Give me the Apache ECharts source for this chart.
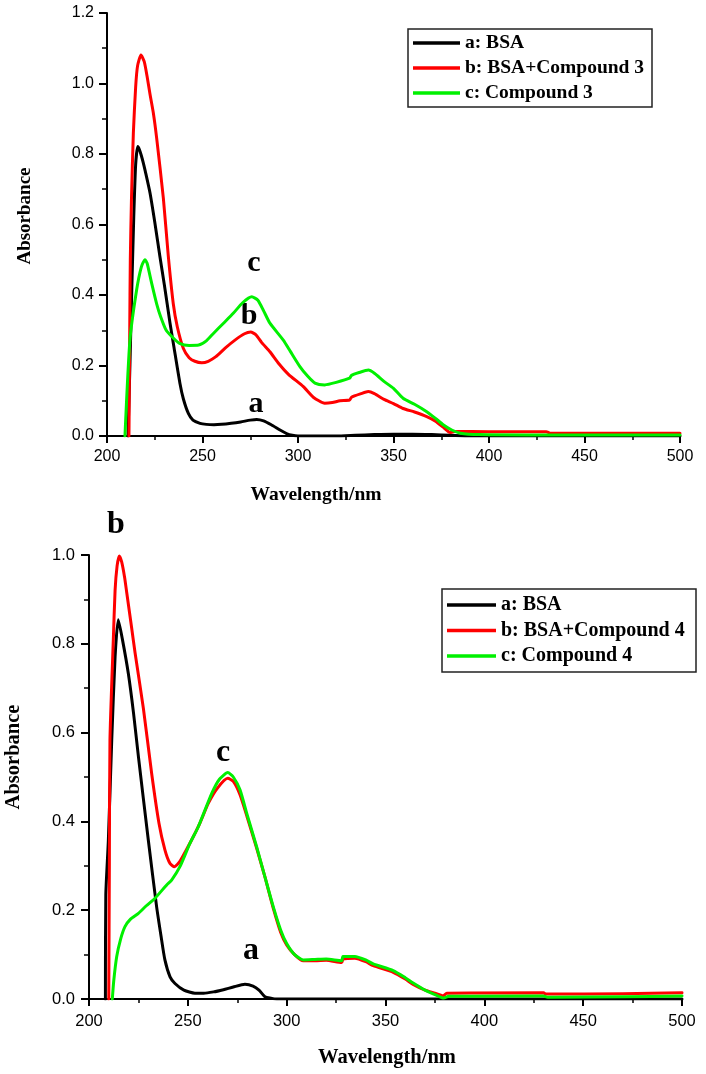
<!DOCTYPE html>
<html>
<head>
<meta charset="utf-8">
<script src="https://cdn.jsdelivr.net/npm/echarts@6/dist/echarts.min.js"></script>
<style>
html,body{margin:0;padding:0;background:#fff;}
#chart{width:706px;height:1074px;}
</style>
</head>
<body>
<div id="chart"></div>
<script>
// ---------- Top panel (Compound 3) ----------
const topNames = ['a: BSA', 'b: BSA+Compound 3', 'c: Compound 3'];
const topBsaWl  = [211, 212, 213, 214, 215, 216.1, 217, 218, 219, 220, 222.5, 225, 227.7, 230, 233, 235, 238.2, 240, 242.6, 245, 248.7, 252, 256, 260, 265, 270, 275, 278.4, 282, 286, 290.6, 294, 297, 300, 320, 330, 340, 350, 360, 370, 380, 390, 500];
const topBsaAbs = [0, 0.2, 0.42, 0.62, 0.77, 0.821, 0.812, 0.795, 0.775, 0.752, 0.69, 0.607, 0.509, 0.43, 0.32, 0.254, 0.149, 0.105, 0.064, 0.045, 0.036, 0.033, 0.032, 0.033, 0.036, 0.040, 0.045, 0.047, 0.043, 0.032, 0.017, 0.007, 0.002, 0, 0, 0.002, 0.004, 0.005, 0.005, 0.004, 0.002, 0, 0];
const topMixWl  = [211.5, 211.9, 212.2, 212.8, 213.8, 215, 216, 217.8, 219.5, 221, 222.5, 224.3, 226, 229.5, 232.1, 234.7, 236.8, 240, 243, 246, 249.6, 253, 257, 262, 267, 272, 275.2, 278, 281, 285.3, 290, 295, 302.8, 308, 314, 318, 322, 327, 328, 333, 336.8, 340, 345, 350, 355, 361, 367.4, 372, 376, 379.6, 382, 400, 430, 432, 500];
const topMixAbs = [0, 0.3, 0.5, 0.67, 0.86, 0.99, 1.05, 1.081, 1.062, 1.02, 0.97, 0.915, 0.845, 0.675, 0.51, 0.375, 0.31, 0.248, 0.222, 0.212, 0.208, 0.212, 0.225, 0.25, 0.272, 0.29, 0.295, 0.287, 0.265, 0.239, 0.205, 0.175, 0.14, 0.11, 0.093, 0.095, 0.10, 0.102, 0.11, 0.12, 0.126, 0.12, 0.104, 0.092, 0.078, 0.068, 0.055, 0.042, 0.025, 0.010, 0.013, 0.012, 0.012, 0.008, 0.008];
const topCmpWl  = [209.4, 212, 215.5, 218, 219.9, 221, 223.4, 226, 228, 231, 234.7, 238, 243, 248, 252, 255.7, 261, 266.1, 271, 275.8, 279, 282, 285.3, 292.3, 296, 301, 305, 308.9, 314, 320, 327, 328, 332, 336.8, 340, 345, 350, 355, 361, 367.4, 372, 376, 380.5, 385, 395, 420, 500];
const topCmpAbs = [0, 0.272, 0.414, 0.48, 0.50, 0.49, 0.433, 0.375, 0.34, 0.30, 0.278, 0.263, 0.257, 0.258, 0.27, 0.291, 0.32, 0.348, 0.378, 0.395, 0.385, 0.355, 0.32, 0.272, 0.24, 0.197, 0.17, 0.15, 0.145, 0.152, 0.164, 0.172, 0.18, 0.187, 0.178, 0.155, 0.135, 0.107, 0.09, 0.069, 0.05, 0.032, 0.017, 0.008, 0.004, 0.003, 0.003];

// ---------- Bottom panel (Compound 4) ----------
const botNames = ['a: BSA', 'b: BSA+Compound 4', 'c: Compound 4'];
const botBsaWl  = [208.3, 208.5, 209.8, 211.5, 213.2, 214.8, 216.9, 219.9, 222.5, 225, 230, 234.2, 236.5, 238.4, 241, 243.5, 248, 253.6, 258, 263, 268, 273, 278.9, 283, 286, 289, 292, 295, 500];
const botBsaAbs = [0, 0.234, 0.358, 0.583, 0.771, 0.854, 0.81, 0.733, 0.645, 0.546, 0.358, 0.208, 0.14, 0.088, 0.05, 0.035, 0.02, 0.013, 0.013, 0.016, 0.021, 0.027, 0.033, 0.029, 0.02, 0.005, 0.002, 0, 0];
const botMixWl  = [210, 210.3, 210.6, 212.3, 213.2, 214.2, 215.3, 216.5, 218, 219.1, 221.6, 223.3, 227.5, 231.7, 235.4, 238.4, 241, 243.2, 246, 251.9, 256, 260.4, 265, 270.2, 273, 276.4, 280, 284.8, 289, 293.2, 297, 300, 304, 308.4, 314.3, 320, 327.8, 328.5, 334.5, 340, 343.8, 353.9, 360, 364, 370, 375, 379.2, 381, 430, 431, 470, 500];
const botMixAbs = [0, 0.3, 0.583, 0.809, 0.921, 0.975, 0.998, 0.985, 0.95, 0.915, 0.835, 0.78, 0.655, 0.508, 0.396, 0.336, 0.305, 0.298, 0.31, 0.358, 0.395, 0.441, 0.475, 0.497, 0.49, 0.46, 0.41, 0.34, 0.275, 0.205, 0.15, 0.122, 0.10, 0.086, 0.086, 0.087, 0.082, 0.09, 0.092, 0.084, 0.075, 0.06, 0.045, 0.033, 0.02, 0.013, 0.007, 0.013, 0.014, 0.011, 0.012, 0.014];
const botCmpWl  = [211.8, 212.5, 214, 216, 218.2, 221, 225, 229, 233.4, 239.3, 241.8, 246, 251, 255.3, 262.1, 266, 270.2, 273, 276.4, 280, 284.8, 289, 293.2, 297, 300, 304, 308.4, 314.3, 320, 327.8, 328.5, 334.5, 340, 343.8, 353.9, 360, 364, 370, 375, 379.5, 382, 430, 432, 470, 500];
const botCmpAbs = [0, 0.04, 0.095, 0.135, 0.163, 0.18, 0.193, 0.21, 0.227, 0.257, 0.268, 0.298, 0.35, 0.388, 0.463, 0.495, 0.51, 0.50, 0.471, 0.415, 0.343, 0.275, 0.208, 0.155, 0.125, 0.10, 0.088, 0.089, 0.09, 0.086, 0.096, 0.096, 0.088, 0.079, 0.064, 0.048, 0.036, 0.02, 0.01, 0.002, 0.006, 0.007, 0.004, 0.005, 0.007];

// Axis settings (tick values)
const xMin = 200, xMax = 500, xInterval = 50;
const topYMax = 1.2, botYMax = 1.0, yInterval = 0.2;

const colors = ['#000000', '#ff0000', '#00f000'];

function pairs(xs, ys) { return xs.map((x, i) => [x, ys[i]]); }

const sans = 'Liberation Sans';
const serif = 'Liberation Serif';

function xAxisCfg(gridIndex, fs, margin) {
  return {
    type: 'value', gridIndex: gridIndex, min: xMin, max: xMax, interval: xInterval,
    axisLine: { show: true, onZero: false, lineStyle: { color: '#000', width: 2 } },
    axisTick: { show: true, length: 7, lineStyle: { color: '#000', width: 2 } },
    minorTick: { show: true, splitNumber: 2, length: 4, lineStyle: { color: '#000', width: 1.5 } },
    axisLabel: { color: '#000', fontFamily: sans, fontSize: fs, margin: margin },
    splitLine: { show: false }
  };
}
function yAxisCfg(gridIndex, max, fs, margin) {
  return {
    type: 'value', gridIndex: gridIndex, min: 0, max: max, interval: yInterval,
    axisLine: { show: true, onZero: false, lineStyle: { color: '#000', width: 2 } },
    axisTick: { show: true, length: 8, lineStyle: { color: '#000', width: 2 } },
    minorTick: { show: true, splitNumber: 2, length: 5, lineStyle: { color: '#000', width: 1.5 } },
    axisLabel: { color: '#000', fontFamily: sans, fontSize: fs, margin: margin, formatter: v => v.toFixed(1) },
    splitLine: { show: false }
  };
}
function lineSeries(name, xi, yi, data, color) {
  return {
    type: 'line', name: name, xAxisIndex: xi, yAxisIndex: yi, data: data,
    showSymbol: false, symbol: 'none', smooth: 0.2,
    lineStyle: { color: color, width: 3, join: 'round', cap: 'round' }, itemStyle: { color: color },
    clip: true, silent: true, animation: false
  };
}
function label(text, x, y, size) {
  return { type: 'text', style: { text: text, x: x, y: y, font: 'bold ' + size + 'px "' + serif + '"', fill: '#000', textAlign: 'center', textVerticalAlign: 'middle' } };
}
function vLabel(text, x, y, size) {
  return { type: 'text', x: x, y: y, rotation: Math.PI / 2, style: { text: text, x: 0, y: 0, font: 'bold ' + size + 'px "' + serif + '"', fill: '#000', textAlign: 'center', textVerticalAlign: 'middle' } };
}

const chart = echarts.init(document.getElementById('chart'), null, { renderer: 'canvas' });
chart.setOption({
  animation: false,
  backgroundColor: '#fff',
  grid: [
    { left: 107, top: 13, width: 573, height: 423 },
    { left: 89, top: 555, width: 593, height: 444 }
  ],
  xAxis: [xAxisCfg(0, 16, 13), xAxisCfg(1, 16.5, 14)],
  yAxis: [yAxisCfg(0, topYMax, 16, 13), yAxisCfg(1, botYMax, 16.5, 14)],
  legend: [
    {
      data: topNames, orient: 'vertical', left: 413, top: 33, padding: 0, itemGap: 5,
      icon: 'rect', itemWidth: 47, itemHeight: 3.5, selectedMode: false,
      textStyle: { color: '#000', fontFamily: serif, fontWeight: 'bold', fontSize: 19.5, lineHeight: 20 }
    },
    {
      data: botNames, orient: 'vertical', left: 447, top: 595, padding: 0, itemGap: 5.5,
      icon: 'rect', itemWidth: 49, itemHeight: 3.5, selectedMode: false,
      textStyle: { color: '#000', fontFamily: serif, fontWeight: 'bold', fontSize: 20, lineHeight: 20 }
    }
  ],
  series: [
    lineSeries(topNames[0], 0, 0, pairs(topBsaWl, topBsaAbs), colors[0]),
    lineSeries(topNames[1], 0, 0, pairs(topMixWl, topMixAbs), colors[1]),
    lineSeries(topNames[2], 0, 0, pairs(topCmpWl, topCmpAbs), colors[2]),
    lineSeries(botNames[0], 1, 1, pairs(botBsaWl, botBsaAbs), colors[0]),
    lineSeries(botNames[1], 1, 1, pairs(botMixWl, botMixAbs), colors[1]),
    lineSeries(botNames[2], 1, 1, pairs(botCmpWl, botCmpAbs), colors[2])
  ],
  graphic: [
    { type: 'rect', shape: { x: 408, y: 29, width: 244, height: 78 }, style: { fill: 'none', stroke: '#222', lineWidth: 1.5 }, silent: true },
    { type: 'rect', shape: { x: 442, y: 589, width: 254, height: 83 }, style: { fill: 'none', stroke: '#222', lineWidth: 1.5 }, silent: true },
    label('Wavelength/nm', 316, 495, 19.5),
    label('Wavelength/nm', 387, 1058, 20.5),
    vLabel('Absorbance', 25, 216, 19),
    vLabel('Absorbance', 14, 757, 20.5),
    label('c', 254, 263, 30),
    label('b', 249, 316, 30),
    label('a', 256, 404, 30),
    label('b', 116, 525, 32),
    label('c', 223, 753, 32),
    label('a', 251, 951, 32)
  ]
});
</script>
</body>
</html>
